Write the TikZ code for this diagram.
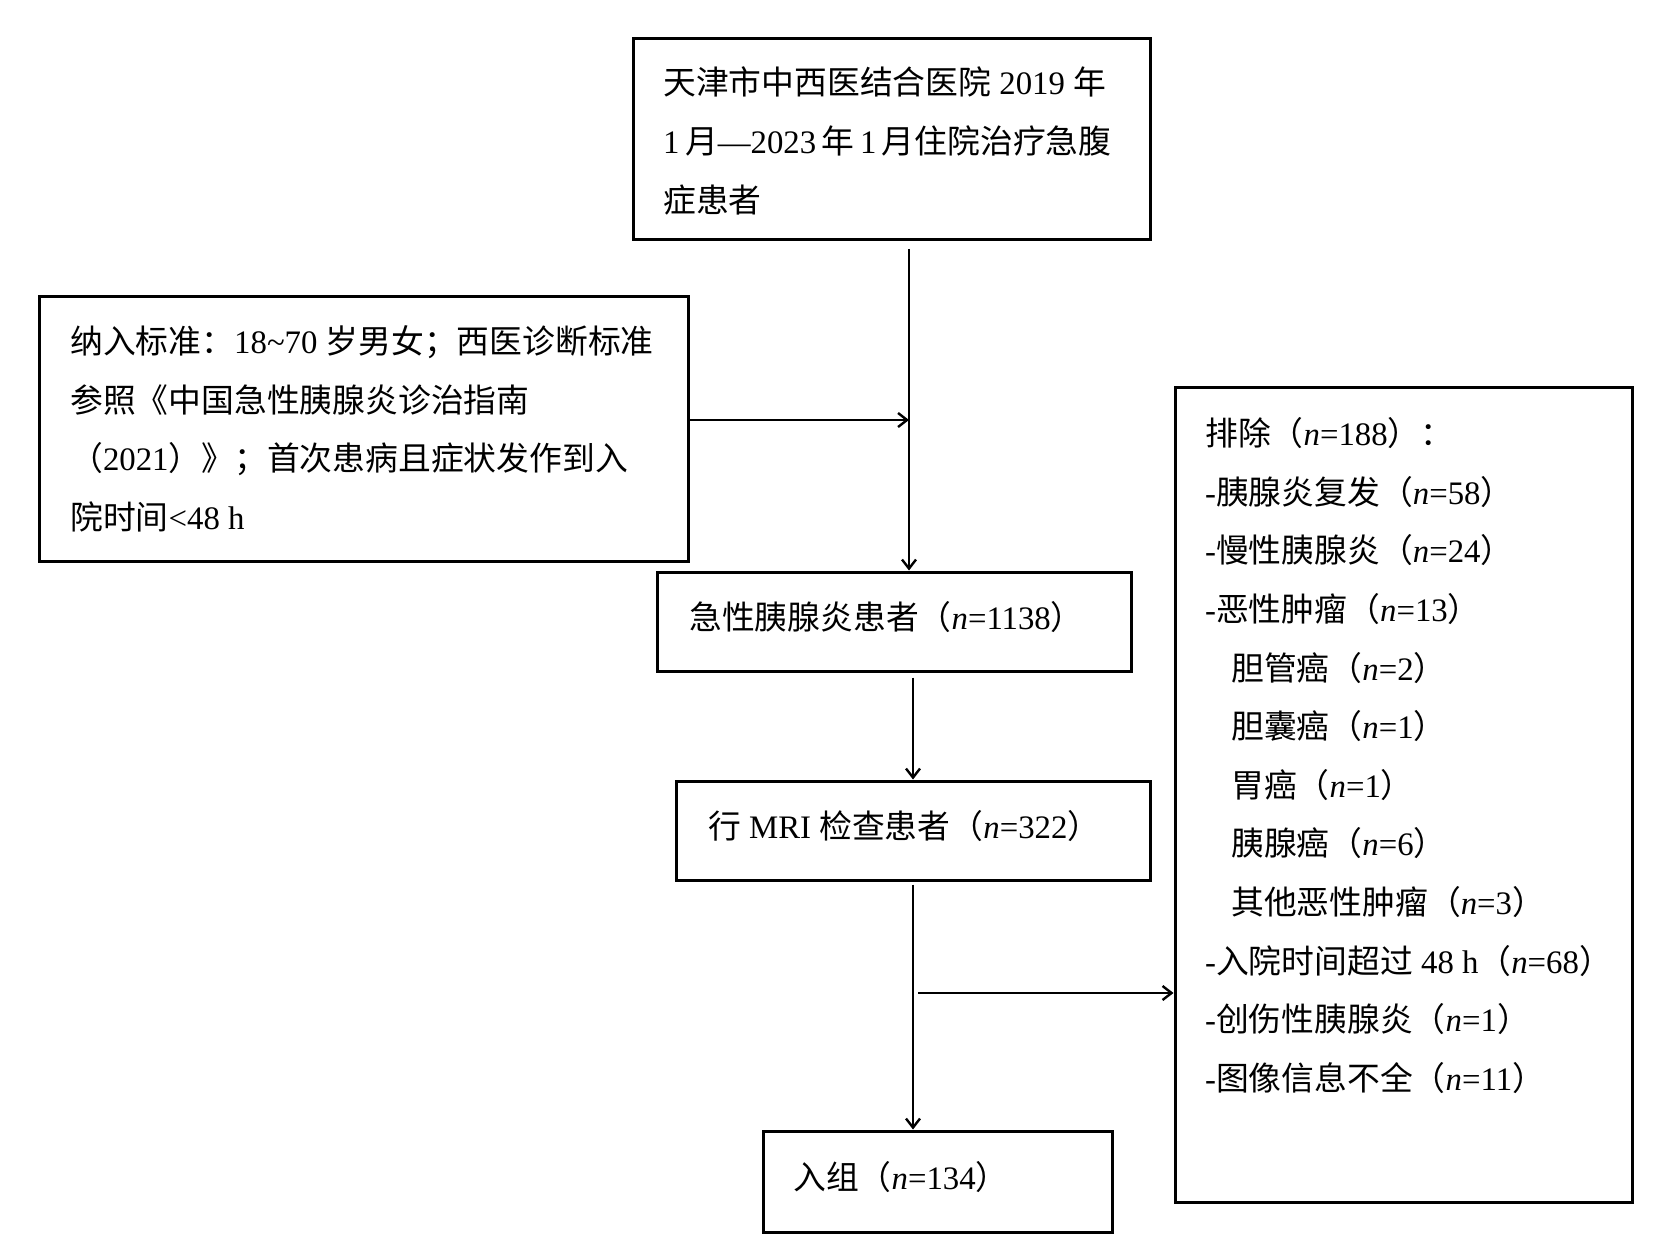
\documentclass[tikz,border=0pt]{standalone}
\usepackage{fontspec}
\setmainfont{Liberation Serif}
\newfontfamily\cjk{Noto Sans CJK SC}
\newcommand{\zh}[1]{{\cjk #1}}
\newcommand{\nn}{\textit{n}}
\usetikzlibrary{arrows.meta}
\begin{document}
\begin{tikzpicture}[x=1pt,y=-1pt,
  box/.style={draw,line width=3pt,rectangle,inner sep=0pt},
  txt/.style={anchor=west,align=left,inner sep=0pt,font=\fontsize{32.8}{58.6}\selectfont},
  arr/.style={line width=2.6pt,-{Straight Barb[length=9pt,width=14pt,line width=2.4pt]}}]
\useasboundingbox (0,0) rectangle (1669,1257);
\fill[white] (0,0) rectangle (1669,1257);
% boxes
\node[box,minimum width=517pt,minimum height=201pt] (top) at (891.5,139) {};
\node[box,minimum width=649pt,minimum height=265pt] (left) at (363.5,428.5) {};
\node[box,minimum width=474pt,minimum height=99pt] (acute) at (894,621.5) {};
\node[box,minimum width=474pt,minimum height=99pt] (mri) at (913,830.5) {};
\node[box,minimum width=349pt,minimum height=101pt] (enrol) at (937.5,1181.5) {};
\node[box,minimum width=457pt,minimum height=815pt] (excl) at (1403.5,794.5) {};
% texts
\node[txt] (toptxt) at (663,141) {\zh{天津市中西医结合医院} 2019 \zh{年}\\1\,\zh{月}—2023\,\zh{年}\,1\,\zh{月住院治疗急腹}\\\zh{症患者}};
\node[txt] (lefttxt) at (70,429) {\zh{纳入标准：}18\string~70 \zh{岁男女；西医诊断标准}\\\zh{参照《中国急性胰腺炎诊治指南}\\\zh{（}2021\zh{）》；首次患病且症状发作到入}\\\zh{院时间}<48 h};
\node[txt] (acutetxt) at (689,617) {\zh{急性胰腺炎患者（}\nn=1138\zh{）}};
\node[txt] (mritxt) at (708,826) {\zh{行} MRI \zh{检查患者（}\nn=322\zh{）}};
\node[txt] (enroltxt) at (793,1177) {\zh{入组（}\nn=134\zh{）}};
\node[txt] (excltxt) at (1205,755.5) {\zh{排除（}\nn=188\zh{）：}\\
-\zh{胰腺炎复发（}\nn=58\zh{）}\\
-\zh{慢性胰腺炎（}\nn=24\zh{）}\\
-\zh{恶性肿瘤（}\nn=13\zh{）}\\
\hspace*{26pt}\zh{胆管癌（}\nn=2\zh{）}\\
\hspace*{26pt}\zh{胆囊癌（}\nn=1\zh{）}\\
\hspace*{26pt}\zh{胃癌（}\nn=1\zh{）}\\
\hspace*{26pt}\zh{胰腺癌（}\nn=6\zh{）}\\
\hspace*{26pt}\zh{其他恶性肿瘤（}\nn=3\zh{）}\\
-\zh{入院时间超过} 48 h\zh{（}\nn=68\zh{）}\\
-\zh{创伤性胰腺炎（}\nn=1\zh{）}\\
-\zh{图像信息不全（}\nn=11\zh{）}};
% connectors
\coordinate (jx) at (909,0);
\coordinate (m1) at (909,420);
\coordinate (m2) at (913,993);
\draw[arr] ([yshift=-8pt]top.south -| jx) -- (acute.north -| jx);
\draw[arr] (left.east |- m1) -- (m1);
\draw[arr] ([yshift=-5pt]acute.south -| mri.north) -- (mri.north);
\draw[arr] ([yshift=-3pt]mri.south) -- (mri.south |- enrol.north);
\draw[arr] ([xshift=5pt]m2) -- (excl.west |- m2);
\end{tikzpicture}
\end{document}
